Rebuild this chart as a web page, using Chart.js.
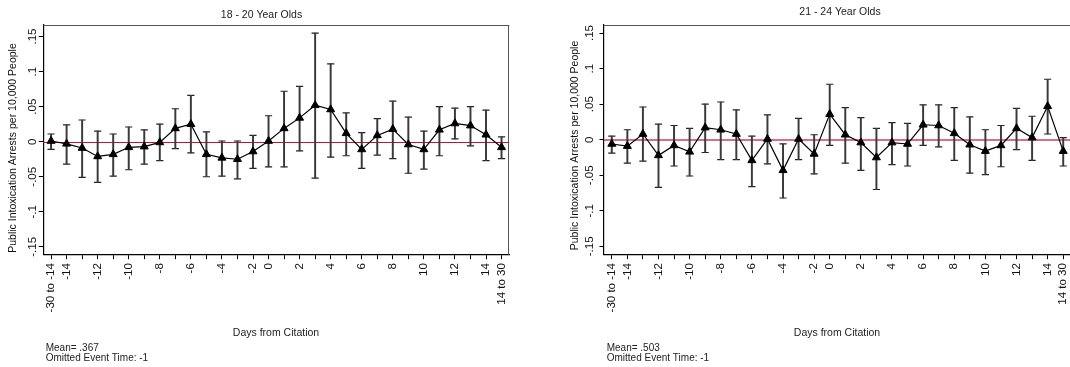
<!DOCTYPE html>
<html>
<head>
<meta charset="utf-8">
<script src="https://cdn.jsdelivr.net/npm/chart.js@4.4.1/dist/chart.umd.min.js"></script>
<style>
  html, body { margin: 0; padding: 0; background: #fff; width: 1070px; height: 367px; overflow: hidden; }
  #wrap { position: relative; width: 1070px; height: 367px; overflow: hidden; }
  .panel { position: absolute; top: 0; }
</style>
</head>
<body>
<div id="wrap">
  <canvas id="c1" class="panel" width="540" height="367" style="left:0px"></canvas>
  <canvas id="c2" class="panel" width="545" height="367" style="left:545px"></canvas>
</div>
<script>
// days from citation (-1 is the omitted event time)
const categories = ['-30 to -14', '-14', '-13', '-12', '-11', '-10', '-9', '-8', '-7', '-6', '-5', '-4', '-3', '-2',
  '0', '1', '2', '3', '4', '5', '6', '7', '8', '9', '10', '11', '12', '13', '14', '14 to 30'];
const xTickLabels = ['-30 to -14', '-14', '', '-12', '', '-10', '', '-8', '', '-6', '', '-4', '', '-2',
  '0', '', '2', '', '4', '', '6', '', '8', '', '10', '', '12', '', '14', '14 to 30'];
const yTickValues = [0.15, 0.1, 0.05, 0, -0.05, -0.1, -0.15];
const yTickLabels = ['.15', '.1', '.05', '0', '-.05', '-.1', '-.15'];

// 18 - 20 year olds
const est18 = [0.001, -0.003, -0.009, -0.021, -0.018, -0.008, -0.007, -0.001, 0.019, 0.025, -0.018, -0.023, -0.025, -0.014,
  0.001, 0.019, 0.034, 0.052, 0.046, 0.012, -0.011, 0.009, 0.018, -0.004, -0.011, 0.017, 0.026, 0.023, 0.010, -0.008];
const lo18 = [-0.011, -0.032, -0.051, -0.058, -0.049, -0.040, -0.032, -0.027, -0.010, -0.016, -0.050, -0.049, -0.053, -0.038,
  -0.036, -0.036, -0.013, -0.052, -0.022, -0.020, -0.038, -0.019, -0.024, -0.045, -0.039, -0.020, 0.004, -0.006, -0.027, -0.024];
const hi18 = [0.011, 0.024, 0.031, 0.015, 0.011, 0.021, 0.017, 0.025, 0.047, 0.066, 0.014, 0.001, 0.001, 0.009,
  0.037, 0.072, 0.079, 0.155, 0.111, 0.041, 0.013, 0.033, 0.058, 0.035, 0.015, 0.050, 0.048, 0.050, 0.045, 0.007];

// 21 - 24 year olds
const est21 = [-0.006, -0.009, 0.008, -0.022, -0.008, -0.017, 0.017, 0.014, 0.008, -0.029, 0.001, -0.043, 0.001, -0.020,
  0.036, 0.007, -0.004, -0.025, -0.004, -0.006, 0.021, 0.020, 0.009, -0.007, -0.016, -0.008, 0.016, 0.003, 0.047, -0.016];
const lo21 = [-0.019, -0.033, -0.030, -0.067, -0.037, -0.051, -0.018, -0.028, -0.028, -0.066, -0.034, -0.082, -0.028, -0.048,
  -0.008, -0.033, -0.043, -0.070, -0.035, -0.037, -0.008, -0.010, -0.029, -0.047, -0.049, -0.038, -0.014, -0.029, 0.008, -0.037];
const hi21 = [0.005, 0.014, 0.046, 0.022, 0.020, 0.016, 0.050, 0.053, 0.042, 0.005, 0.035, -0.006, 0.030, 0.007,
  0.078, 0.045, 0.031, 0.016, 0.024, 0.023, 0.049, 0.049, 0.045, 0.032, 0.014, 0.020, 0.044, 0.033, 0.085, 0.003];

const font = '"Liberation Sans", Arial, Helvetica, sans-serif';

// zero line, box top/right, rotated y labels, titles and notes
const stataDecor = {
  id: 'stataDecor',
  beforeDatasetsDraw(chart, args, o) {
    const ctx = chart.ctx, a = chart.chartArea;
    const y0 = Math.round(chart.scales.y.getPixelForValue(0)) + (o.zeroWidth % 2 ? 0.5 : 0);
    ctx.save();
    ctx.strokeStyle = o.zeroColor;
    ctx.lineWidth = o.zeroWidth;
    ctx.beginPath();
    ctx.moveTo(a.left, y0);
    ctx.lineTo(a.right, y0);
    ctx.stroke();
    ctx.restore();
  },
  afterDraw(chart, args, o) {
    const ctx = chart.ctx, a = chart.chartArea, y = chart.scales.y;
    const dx = o.offset;
    ctx.save();
    ctx.strokeStyle = '#555';
    ctx.lineWidth = 1;
    ctx.beginPath();
    ctx.moveTo(a.left, Math.round(a.top) + 0.5);
    ctx.lineTo(a.right, Math.round(a.top) + 0.5);
    ctx.moveTo(Math.round(a.right) - 0.5, a.top);
    ctx.lineTo(Math.round(a.right) - 0.5, a.bottom);
    ctx.stroke();

    ctx.fillStyle = '#111';
    ctx.textAlign = 'center';
    ctx.textBaseline = 'middle';

    ctx.font = '11.5px ' + font;
    yTickValues.forEach((v, i) => {
      ctx.save();
      ctx.translate(o.yTickX - dx, y.getPixelForValue(v));
      ctx.rotate(-Math.PI / 2);
      ctx.fillText(yTickLabels[i], 0, 0);
      ctx.restore();
    });

    ctx.font = '10.5px ' + font;
    ctx.save();
    ctx.translate(o.yTitleX - dx, o.yTitleY);
    ctx.rotate(-Math.PI / 2);
    ctx.fillText('Public Intoxication Arrests per 10,000 People', 0, 0);
    ctx.restore();

    ctx.fillStyle = '#222';
    ctx.fillText(o.title, o.titleX - dx, o.titleY);
    ctx.fillText('Days from Citation', o.xTitleX - dx, 333);

    ctx.textAlign = 'left';
    ctx.font = '10px ' + font;
    ctx.fillText(o.mean, o.noteX - dx, 348.3);
    ctx.fillText('Omitted Event Time: -1', o.noteX - dx, 358.3);
    ctx.restore();
  }
};

function makePanel(id, est, lo, hi, p) {
  return new Chart(document.getElementById(id), {
    type: 'line',
    data: {
      labels: categories,
      datasets: [
        {
          data: est, borderColor: '#000', borderWidth: 1.2, tension: 0,
          pointStyle: 'triangle', pointRadius: 4.6,
          pointBackgroundColor: '#000', pointBorderColor: '#000', pointBorderWidth: 1, order: 0
        },
        {
          type: 'bar', data: lo.map((l, i) => [l, hi[i]]),
          backgroundColor: '#3a3a3a', borderWidth: 0, barThickness: 1.3, grouped: false, order: 1
        },
        {
          data: hi, showLine: false, pointStyle: 'line', pointRadius: 3.6,
          pointBorderColor: '#222', pointBorderWidth: 1.2, order: 2
        },
        {
          data: lo, showLine: false, pointStyle: 'line', pointRadius: 3.6,
          pointBorderColor: '#222', pointBorderWidth: 1.2, order: 2
        }
      ]
    },
    options: {
      responsive: false,
      animation: false,
      events: [],
      layout: { padding: { left: 0, right: p.padRight, top: 25, bottom: 0 } },
      plugins: {
        legend: { display: false },
        tooltip: { enabled: false },
        stataDecor: p
      },
      scales: {
        x: {
          type: 'category',
          offset: true,
          grid: { offset: false, drawOnChartArea: false, drawTicks: true, tickLength: 4.5, color: '#000', lineWidth: 1 },
          border: { display: true, color: '#000', width: 1.2 },
          ticks: {
            autoSkip: false, minRotation: 90, maxRotation: 90, padding: 4, color: '#111',
            font: { family: font, size: 11.5 },
            callback: (v, i) => xTickLabels[i]
          },
          afterFit: s => { s.height = 367 - 254.7; }
        },
        y: {
          min: p.yMin,
          max: p.yMax,
          grid: { drawOnChartArea: false, drawTicks: true, tickLength: 4.5, color: '#000', lineWidth: 1 },
          border: { display: true, color: '#000', width: 1.2 },
          ticks: { display: false },
          afterBuildTicks: s => { s.ticks = yTickValues.map(v => ({ value: v })); },
          afterFit: s => { s.width = p.yWidth; }
        }
      }
    },
    plugins: [stataDecor]
  });
}

makePanel('c1', est18, lo18, hi18, {
  offset: 0, padRight: 540 - 509.3, yWidth: 43.3, yMin: -0.1612, yMax: 0.1665,
  zeroColor: '#c8102e', zeroWidth: 1,
  title: '18 - 20 Year Olds', titleX: 261.5, titleY: 15,
  yTitleX: 13.5, yTitleY: 148, yTickX: 32.7, xTitleX: 276, noteX: 45.7,
  mean: 'Mean= .367'
});

makePanel('c2', est21, lo21, hi21, {
  offset: 545, padRight: 545 - 526, yWidth: 59, yMin: -0.1617, yMax: 0.1613,
  zeroColor: 'rgba(205, 60, 100, 0.75)', zeroWidth: 2,
  title: '21 - 24 Year Olds', titleX: 840, titleY: 11.7,
  yTitleX: 575, yTitleY: 145.5, yTickX: 590, xTitleX: 837, noteX: 606.7,
  mean: 'Mean= .503'
});
</script>
</body>
</html>
